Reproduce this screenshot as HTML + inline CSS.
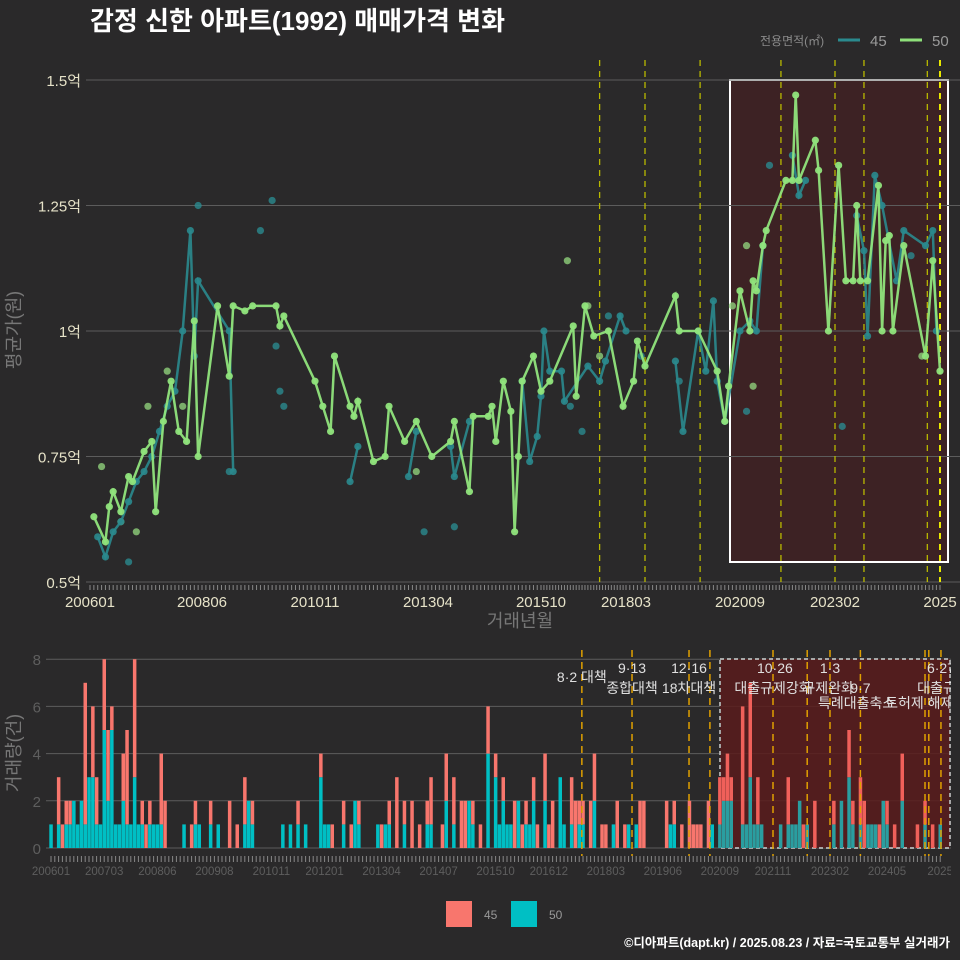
<!DOCTYPE html>
<html><head><meta charset="utf-8">
<style>
html,body{margin:0;padding:0;background:#2a292a;}
svg{display:block;font-family:"Liberation Sans","Noto Sans CJK KR",sans-serif;}
</style></head>
<body>
<svg id="c" width="960" height="960" viewBox="0 0 960 960">
<defs><clipPath id="clipR"><rect x="0" y="0" width="951" height="960"/></clipPath></defs>
<rect width="960" height="960" fill="#2a292a"/>
<text x="90" y="30" fill="#ffffff" font-size="26" font-weight="bold">감정 신한 아파트(1992) 매매가격 변화</text>
<g>
<text x="760" y="45" fill="#8a8a8a" font-size="12">전용면적(㎡)</text>
<line x1="838" y1="40" x2="860" y2="40" stroke="#2a8a8e" stroke-width="3"/>
<text x="870" y="46" fill="#9a9a9a" font-size="15">45</text>
<line x1="900" y1="40" x2="922" y2="40" stroke="#8ee07a" stroke-width="3"/>
<text x="932" y="46" fill="#9a9a9a" font-size="15">50</text>
</g>
<g id="top"></g>
<g id="bot" clip-path="url(#clipR)"></g>
<text x="20" y="330" fill="#777" font-size="18" transform="rotate(-90 20 330)" text-anchor="middle">평균가(원)</text>
<text x="520" y="627" fill="#777" font-size="18" text-anchor="middle">거래년월</text>
<text x="20" y="753" fill="#777" font-size="18" transform="rotate(-90 20 753)" text-anchor="middle">거래량(건)</text>
<g>
<rect x="446" y="901" width="26" height="26" fill="#f8766d"/>
<text x="484" y="919" fill="#999" font-size="12">45</text>
<rect x="511" y="901" width="26" height="26" fill="#00bfc4"/>
<text x="549" y="919" fill="#999" font-size="12">50</text>
</g>
<text x="950" y="947" fill="#ffffff" font-size="12.5" font-weight="bold" text-anchor="end">©디아파트(dapt.kr) / 2025.08.23 / 자료=국토교통부 실거래가</text>
</svg>
<script>
// ---- price chart data (month index since 2006-01, price in 억) ----
const greenMonths=[1,4,5,6,8,10,11,14,16,17,19,21,23,25,27,28,33,36,37,40,42,48,49,50,58,60,62,63,67,68,69,73,76,77,81,84,88,93,94,98,99,103,104,105,107,109,110,111,112,115,117,120,128,129,132,135,140,145,148,149,151,159,160,165,170,172,173,176,179,180,181,183,184,190,192,193,194,199,200,203,206,208,210,211,212,214,217,218,219,220,221,224,230,232,234];
const greenValues=[0.63,0.58,0.65,0.68,0.64,0.71,0.70,0.76,0.78,0.64,0.82,0.90,0.80,0.78,1.02,0.75,1.05,0.91,1.05,1.04,1.05,1.05,1.01,1.03,0.90,0.85,0.80,0.95,0.85,0.83,0.86,0.74,0.75,0.85,0.78,0.82,0.75,0.78,0.82,0.68,0.83,0.83,0.85,0.78,0.90,0.84,0.60,0.75,0.90,0.95,0.88,0.90,1.01,0.87,1.05,0.99,1.00,0.85,0.90,0.98,0.93,1.07,1.00,1.00,0.92,0.82,0.89,1.08,1.00,1.10,1.08,1.17,1.20,1.30,1.30,1.47,1.30,1.38,1.32,1.00,1.33,1.10,1.10,1.25,1.10,1.10,1.29,1.00,1.18,1.19,1.00,1.17,0.95,1.14,0.92];
const tealMonths=[2,4,6,8,10,12,14,16,18,20,22,24,26,27,28,36,37,67,69,82,84,93,94,98,112,114,116,117,118,120,124,125,133,137,139,144,146,159,161,165,167,169,170,172,176,179,181,183,192,194,196,211,213,214,216,218,222,224,230,232,233];
const tealValues=[0.59,0.55,0.60,0.62,0.66,0.70,0.72,0.75,0.80,0.85,0.88,1.00,1.20,0.95,1.10,1.00,0.72,0.70,0.77,0.71,0.80,0.77,0.71,0.82,0.90,0.74,0.79,0.87,1.00,0.92,0.92,0.86,0.93,0.90,0.94,1.03,1.00,0.94,0.80,1.00,0.92,1.06,0.90,0.82,1.00,1.02,1.00,1.17,1.35,1.27,1.30,1.23,1.16,0.99,1.31,1.25,1.10,1.20,1.17,1.20,1.00];
const tealDotMonths=[28,47,44,36,48,49,50,10,86,94,127,131,140,150,160,178,185,207,226];
const tealDotValues=[1.25,1.26,1.20,0.72,0.97,0.88,0.85,0.54,0.60,0.61,0.85,0.80,1.03,0.95,0.90,0.84,1.33,0.81,1.15];
const greenDotMonths=[3,8,12,15,20,24,84,126,133,137,174,178,180,229];
const greenDotValues=[0.73,0.62,0.60,0.85,0.92,0.85,0.72,1.14,1.05,0.95,1.05,1.17,0.89,0.95];
const priceTicks=[0.5,0.75,1.0,1.25,1.5];
const priceTickLabels=["0.5억","0.75억","1억","1.25억","1.5억"];
const xTickMonths=[0,29,58,87,117,146,176,205,234];
const xTickLabels=["200601","200806","201011","201304","201510","201803","202009","202302","2025"];
const policyMonthsTop=[137,151,165.5,188.5,205,213,230.5,234];

// ---- volume chart data ----
const volMonths=[0,2,3,4,5,6,7,8,9,10,11,12,13,14,15,16,17,18,19,20,21,22,23,24,25,26,27,28,29,30,35,37,38,39,42,44,47,49,51,52,53,61,63,65,67,71,72,73,74,77,79,80,81,86,87,88,89,91,93,95,97,99,100,103,104,106,108,109,110,111,113,115,117,118,119,120,121,122,123,124,125,126,127,128,130,131,132,134,135,137,138,139,140,142,143,145,146,148,149,151,152,154,155,156,162,163,164,166,168,169,170,171,173,174,176,177,178,179,182,183,184,185,186,187,192,194,195,196,197,198,199,201,203,206,208,210,211,213,214,215,216,217,218,219,220,222,224,228,230,232,234];
const vol50=[1,1,0,1,1,2,1,2,1,3,3,1,1,5,2,5,1,1,2,1,1,3,1,1,0,1,1,1,1,0,1,0,1,1,1,1,0,0,1,2,1,1,1,1,1,3,1,1,0,1,0,2,1,1,0,1,1,0,1,0,0,1,1,0,2,1,0,0,2,1,0,4,3,1,2,1,1,0,2,0,1,1,2,0,2,0,0,3,1,1,0,1,1,0,2,0,0,1,0,0,1,1,0,0,0,1,1,0,0,0,0,0,0,1,1,2,2,2,1,1,3,1,1,1,1,1,1,1,2,0,1,0,0,1,2,3,1,1,0,1,1,1,0,2,1,0,2,0,1,0,1];
const vol45=[0,2,1,1,1,0,0,0,6,0,3,2,0,3,3,1,0,0,2,4,0,5,0,1,1,1,0,0,3,2,0,1,1,0,1,0,2,1,2,0,1,0,0,1,0,1,0,0,1,1,1,0,1,0,1,0,1,3,1,2,1,1,2,1,2,2,2,2,0,1,1,2,1,0,1,0,0,2,0,1,1,0,1,1,2,1,2,0,0,2,2,1,1,2,2,1,1,0,2,1,0,0,2,2,2,0,1,1,2,1,1,1,2,0,2,1,2,1,5,0,4,0,2,0,0,2,0,0,0,1,0,2,0,1,0,2,1,2,2,0,0,0,1,0,1,1,2,1,1,1,0];
const volTicks=[0,2,4,6,8];
const volTickMonths=[0,14,28,43,58,72,87,102,117,131,146,161,176,190,205,220,234];
const volTickLabels=["200601","200703","200806","200908","201011","201201","201304","201407","201510","201612","201803","201906","202009","202111","202302","202405","2025"];
const policyMonthsBot=[139.7,152.9,167.9,173.4,190,199,205,213,230,231,234.2];
const policyNotes=["8·2 대책","9·13","종합대책","12·16","18차대책","10·26","대출규제강화","1·3","규제완화","9·7","특례대출축소","토허제 해제","6·27","대출규"];
const noteMonths=[139.7,152.9,152.9,167.9,167.9,190.5,190,205,204.5,213,212,228.5,234.2,233];
const noteRows=[0,-1,1,-1,1,-1,1,-1,1,1,2,2,-1,1];

const NS="http://www.w3.org/2000/svg";
function mk(p,tag,at){const e=document.createElementNS(NS,tag);for(const k in at)e.setAttribute(k,at[k]);p.appendChild(e);return e;}
const knotM=[0,29,58,87,117,146,176,205,234], knotX=[90,202,315,428,541,626,740,835,940];
function xTop(m){for(let i=0;i<knotM.length-1;i++){if(m<=knotM[i+1]||i==knotM.length-2){return knotX[i]+(m-knotM[i])*(knotX[i+1]-knotX[i])/(knotM[i+1]-knotM[i]);}}}
function yTop(v){return 80+(1.5-v)*502;}
function xBot(m){return 51+m*3.8;}
function yBot(c){return 848-c*23.6;}

const gTop=document.getElementById('top');
let r=mk(gTop,'rect',{x:730,y:80,width:218,height:482,fill:'#3d2224',stroke:'#ffffff','stroke-width':2});


priceTicks.forEach((v,i)=>{
  let l=mk(gTop,'line',{x1:86,x2:960,y1:yTop(v),y2:yTop(v),stroke:'#5c5c5c','stroke-width':1});
  
  
  let t=mk(gTop,'text',{x:81,y:yTop(v)+6,fill:'#e6e2c8','font-size':15,'text-anchor':'end'});
  t.textContent=priceTickLabels[i];
  
  
});
policyMonthsTop.forEach((m,i)=>{
  let l=mk(gTop,'line',{x1:xTop(m),x2:xTop(m),y1:60,y2:582,stroke:i==7?'#e8e800':'#b8b800','stroke-width':i==7?2:1.3,'stroke-dasharray':'6,5'});
  
  
});
for(let m=0;m<=234;m++){let l=mk(gTop,'line',{x1:xTop(m),x2:xTop(m),y1:585,y2:590,stroke:'#888','stroke-width':1});
  
  }
xTickMonths.forEach((m,i)=>{
  let t=mk(gTop,'text',{x:xTop(m),y:607,fill:'#e6e2c8','font-size':15,'text-anchor':'middle'});
  t.textContent=xTickLabels[i];
  
  
});
function series(months,vals,color,name,opacity,maxGap){
  const g=mk(gTop,'g',{});
  
  
  let d=months.map((m,i)=>((i==0||m-months[i-1]>maxGap)?'M':'L')+xTop(m).toFixed(1)+','+yTop(vals[i]).toFixed(1)).join('');
  let p=mk(g,'path',{d:d,fill:'none',stroke:color,'stroke-width':2.5,opacity:opacity});
  
  
  months.forEach((m,i)=>{let c=mk(g,'circle',{cx:xTop(m),cy:yTop(vals[i]),r:3.6,fill:color,opacity:opacity});
    
    });
}
function dots(months,vals,color,name){
  months.forEach((m,i)=>{let c=mk(gTop,'circle',{cx:xTop(m),cy:yTop(vals[i]),r:3.6,fill:color,opacity:0.8});
    
    });
}
dots(tealDotMonths,tealDotValues,'#2a8a8e','dot-45');
dots(greenDotMonths,greenDotValues,'#8ed07a','dot-50');
series(tealMonths,tealValues,'#2a8a8e','series-45',0.9,8);
series(greenMonths,greenValues,'#90e47c','series-50',0.95,1000);

const gBot=document.getElementById('bot');
volTicks.forEach(v=>{
  let l=mk(gBot,'line',{x1:46,x2:960,y1:yBot(v),y2:yBot(v),stroke:'#5c5c5c','stroke-width':1});
  
  
  let t=mk(gBot,'text',{x:41,y:yBot(v)+6,fill:'#5e5e5e','font-size':15,'text-anchor':'end'});
  t.textContent=v;
  
  
});
let rb=mk(gBot,'rect',{x:720,y:659,width:230,height:189,fill:'#5a1c1c',opacity:0.85,stroke:'#bbbbbb','stroke-width':2,'stroke-dasharray':'4,3'});


volMonths.forEach((m,i)=>{
  const x=xBot(m)-1.7, c=vol50[i]||0, rr=vol45[i]||0;
  if(c>0){let b=mk(gBot,'rect',{x:x,y:yBot(c),width:3.5,height:c*23.6,fill:m>=176?'#2a9ea0':'#00bfc4'});
    
    }
  if(rr>0){let b=mk(gBot,'rect',{x:x,y:yBot(c+rr),width:3.5,height:rr*23.6,fill:m>=176?'#f0605a':'#f8766d'});
    
    }
});
policyMonthsBot.forEach(m=>{
  let l=mk(gBot,'line',{x1:xBot(m),x2:xBot(m),y1:650,y2:856,stroke:'#e0a000','stroke-width':1.5,'stroke-dasharray':'7,5'});
  
  
});
policyNotes.forEach((s,i)=>{
  const y=noteRows[i]==-1?673:noteRows[i]==0?682:noteRows[i]==1?693:708;
  let t=mk(gBot,'text',{x:xBot(noteMonths[i]),y:y,fill:'#e0e0e0','font-size':14,'text-anchor':'middle'});
  t.textContent=s;
  
  
});
for(let m=0;m<=234;m++){let l=mk(gBot,'line',{x1:xBot(m),x2:xBot(m),y1:856,y2:862,stroke:'#888','stroke-width':1});
  
  }
volTickMonths.forEach((m,i)=>{
  let t=mk(gBot,'text',{x:xBot(m),y:875,fill:'#5e5e5e','font-size':11.5,'text-anchor':'middle'});
  t.textContent=volTickLabels[i];
  
  
});
</script>
</body></html>
